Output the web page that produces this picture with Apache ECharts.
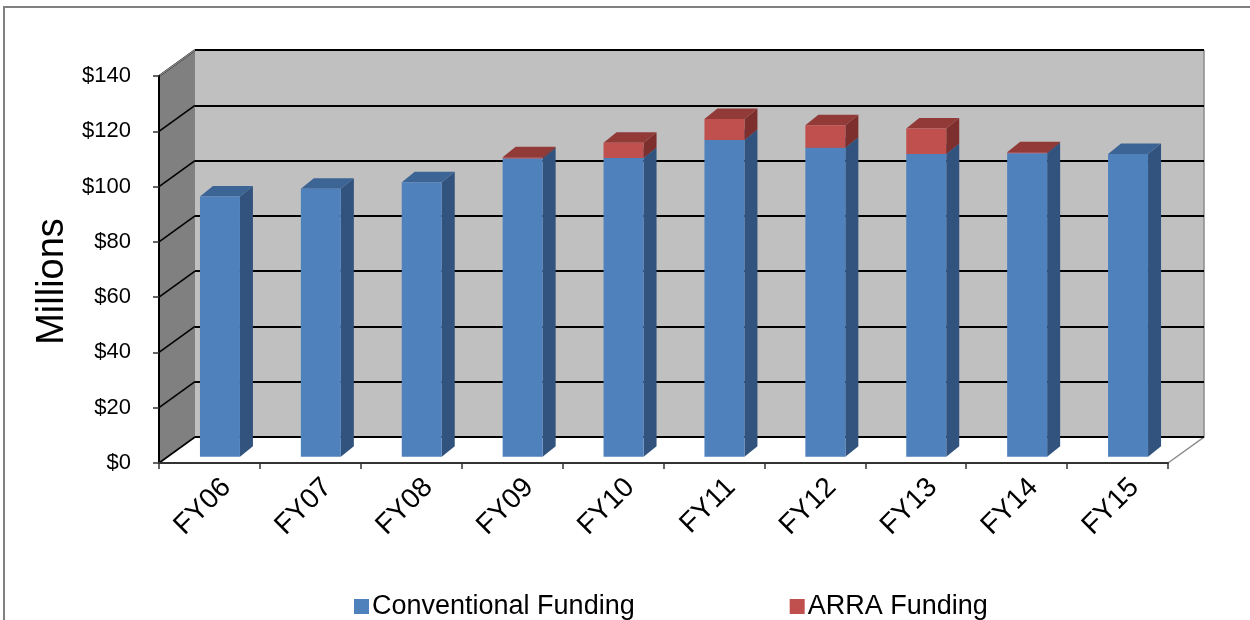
<!DOCTYPE html>
<html>
<head>
<meta charset="utf-8">
<script src="https://cdn.jsdelivr.net/npm/echarts@6/dist/echarts.min.js"></script>
<style>
  html, body { margin: 0; padding: 0; background: #fff; }
  #echarts-main { width: 1250px; height: 620px; }
</style>
</head>
<body>
<div id="echarts-main"></div>
<script>
  // 数据
  const years = ['FY06', 'FY07', 'FY08', 'FY09', 'FY10', 'FY11', 'FY12', 'FY13', 'FY14', 'FY15'];
  const conventional = [94.1, 96.9, 99.3, 107.9, 108.1, 114.6, 111.8, 109.5, 109.8, 109.5];
  const arra = [0, 0, 0, 0.4, 5.5, 7.6, 8.1, 9.2, 0.3, 0];
  const yTicks = [0, 20, 40, 60, 80, 100, 120, 140];

  const Y_MAX = 140;
  const Y_STEP = 20;

  // 3D 偏移 (像素)
  const DEPTH_X = 36;
  const DEPTH_Y = -26;
  const FACE_X = 10.5;
  const FACE_Y = -6.3;
  const SIDE_X = 13;
  const SIDE_Y = -10.5;
  const BAR_W = 40;

  const blue = { front: '#4F81BD', top: '#3C6494', side: '#31537E' };
  const red = { front: '#C0504D', top: '#913A38', side: '#7D2F2D' };

  const FONT = 'Liberation Sans, Arial, sans-serif';

  function wallsItem(params, api) {
    const band = api.size([1, 0])[0];
    const x0 = api.coord([0, 0])[0] - band / 2;
    const x1 = api.coord([years.length - 1, 0])[0] + band / 2;
    const y0 = api.coord([0, 0])[1];
    const yTop = api.coord([0, Y_MAX])[1];
    const children = [];
    // 左侧墙
    children.push({
      type: 'polygon',
      shape: { points: [[x0, y0], [x0, yTop], [x0 + DEPTH_X, yTop + DEPTH_Y], [x0 + DEPTH_X, y0 + DEPTH_Y]] },
      style: { fill: '#808080' }
    });
    // 地面
    children.push({
      type: 'polygon',
      shape: { points: [[x0, y0], [x1, y0], [x1 + DEPTH_X, y0 + DEPTH_Y], [x0 + DEPTH_X, y0 + DEPTH_Y]] },
      style: { fill: '#ffffff' }
    });
    yTicks.forEach(v => {
      const y = api.coord([0, v])[1];
      children.push({
        type: 'line',
        shape: { x1: x0, y1: y, x2: x0 + DEPTH_X, y2: y + DEPTH_Y },
        style: { stroke: '#000', lineWidth: 1.6 }
      });
    });
    // 边线
    children.push({
      type: 'polyline',
      shape: { points: [[x0, yTop], [x0 + DEPTH_X, yTop + DEPTH_Y]] },
      style: { stroke: '#8c8c8c', lineWidth: 1.5, fill: null }
    });
    children.push({
      type: 'polyline',
      shape: { points: [[x1, y0], [x1 + DEPTH_X, y0 + DEPTH_Y], [x1 + DEPTH_X, yTop + DEPTH_Y]] },
      style: { stroke: '#8c8c8c', lineWidth: 1.5, fill: null }
    });
    return { type: 'group', children };
  }

  function barRenderer(colors) {
    return function (params, api) {
      const base = api.value(1);
      const top = api.value(2);
      if (top - base <= 0) {
        return;
      }
      const b = api.coord([api.value(0), base]);
      const t = api.coord([api.value(0), top]);
      const L = b[0] + FACE_X - BAR_W / 2;
      const R = L + BAR_W;
      const yb = b[1] + FACE_Y;
      const yt = t[1] + FACE_Y;
      return {
        type: 'group',
        children: [
          {
            type: 'polygon',
            shape: { points: [[R, yb], [R, yt], [R + SIDE_X, yt + SIDE_Y], [R + SIDE_X, yb + SIDE_Y]] },
            style: { fill: colors.side }
          },
          {
            type: 'polygon',
            shape: { points: [[L, yt], [R, yt], [R + SIDE_X, yt + SIDE_Y], [L + SIDE_X, yt + SIDE_Y]] },
            style: { fill: colors.top }
          },
          {
            type: 'rect',
            shape: { x: L, y: yt, width: BAR_W, height: yb - yt },
            style: { fill: colors.front }
          }
        ]
      };
    };
  }

  const convData = years.map((y, i) => [i, 0, conventional[i]]);
  const arraData = years.map((y, i) => [i, conventional[i], conventional[i] + arra[i]]);

  const chart = echarts.init(document.getElementById('echarts-main'), null, { renderer: 'canvas' });

  const frontGrid = { left: 159, top: 76, width: 1009, height: 387 };

  const option = {
    animation: false,
    backgroundColor: '#ffffff',
    graphic: [{
      type: 'rect',
      shape: { x: 4, y: 7, width: 1300, height: 700 },
      style: { fill: null, stroke: '#808080', lineWidth: 2 },
      silent: true
    }],
    grid: [
      frontGrid,
      {
        left: frontGrid.left + DEPTH_X, top: frontGrid.top + DEPTH_Y,
        width: frontGrid.width, height: frontGrid.height,
        show: true, backgroundColor: '#C0C0C0', borderWidth: 0
      },
      {
        left: frontGrid.left + 17, top: frontGrid.top,
        width: frontGrid.width, height: frontGrid.height
      }
    ],
    legend: {
      data: ['Conventional Funding', 'ARRA Funding'],
      left: 349,
      top: 588,
      icon: 'rect',
      itemWidth: 15,
      itemHeight: 15,
      itemGap: 155,
      textStyle: { fontFamily: FONT, fontSize: 27, color: '#000', padding: [0, 0, 0, -2] }
    },
    xAxis: [
      {
        type: 'category', data: years, gridIndex: 0, z: 10,
        axisLine: { lineStyle: { color: '#333', width: 2 } },
        axisTick: { show: true, length: 6, lineStyle: { color: '#333', width: 1.5 } },
        axisLabel: { show: false }
      },
      {
        type: 'category', data: years, gridIndex: 1, show: false
      },
      {
        type: 'category', data: years, gridIndex: 2,
        axisLine: { show: false }, axisTick: { show: false },
        axisLabel: { rotate: 45, margin: 20, fontFamily: FONT, fontSize: 28, color: '#000' }
      }
    ],
    yAxis: [
      {
        type: 'value', gridIndex: 0, min: 0, max: Y_MAX, interval: Y_STEP, z: 10,
        name: 'Millions', nameLocation: 'middle', nameRotate: 90, nameGap: 85,
        nameTextStyle: { fontFamily: FONT, fontSize: 38, color: '#000', padding: [0, 24, 0, 0] },
        axisLine: { show: true, lineStyle: { color: '#000', width: 2 } },
        axisTick: { show: true, length: 6, lineStyle: { color: '#333', width: 1.5 } },
        axisLabel: { margin: 28, fontFamily: FONT, fontSize: 22, color: '#000', formatter: '${value}' },
        splitLine: { show: false }
      },
      {
        type: 'value', gridIndex: 1, min: 0, max: Y_MAX, interval: Y_STEP, z: 2,
        axisLine: { show: false }, axisTick: { show: false }, axisLabel: { show: false },
        splitLine: { show: true, lineStyle: { color: '#000', width: 2.2 } }
      },
      {
        type: 'value', gridIndex: 2, min: 0, max: Y_MAX, show: false
      }
    ],
    series: [
      {
        type: 'custom', name: 'walls', xAxisIndex: 0, yAxisIndex: 0, z: 1, silent: true,
        renderItem: wallsItem, data: [[0, 0]]
      },
      {
        type: 'custom', name: 'Conventional Funding', xAxisIndex: 0, yAxisIndex: 0, z: 3,
        itemStyle: { color: blue.front },
        encode: { x: 0, y: [1, 2] },
        renderItem: barRenderer(blue), data: convData
      },
      {
        type: 'custom', name: 'ARRA Funding', xAxisIndex: 0, yAxisIndex: 0, z: 4,
        itemStyle: { color: red.front },
        encode: { x: 0, y: [1, 2] },
        renderItem: barRenderer(red), data: arraData
      }
    ]
  };

  chart.setOption(option);
</script>
</body>
</html>
